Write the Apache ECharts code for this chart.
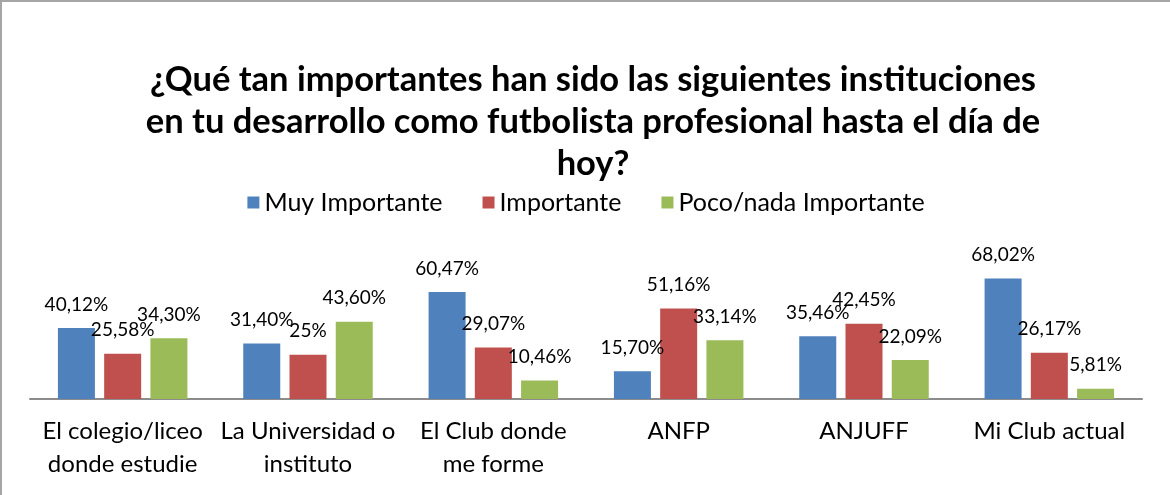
<!DOCTYPE html>
<html>
<head>
<meta charset="utf-8">
<script src="https://cdn.jsdelivr.net/npm/echarts@6/dist/echarts.min.js"></script>
<style>
  html, body { margin: 0; padding: 0; background: #fff; }
  #main { width: 1170px; height: 495px; box-sizing: border-box; border-top: 2px solid #a6a6a6; border-left: 2px solid #a6a6a6; }
</style>
</head>
<body>
<div id="main"></div>
<script>
// datos (porcentajes)
var categorias = ['El colegio/liceo\ndonde estudie', 'La Universidad o\ninstituto', 'El Club donde\nme forme', 'ANFP', 'ANJUFF', 'Mi Club actual'];
var muyImportante = [40.12, 31.40, 60.47, 15.70, 35.46, 68.02];
var importante = [25.58, 25, 29.07, 51.16, 42.45, 26.17];
var pocoNada = [34.30, 43.60, 10.46, 33.14, 22.09, 5.81];
var nombres = ['Muy Importante', 'Importante', 'Poco/nada Importante'];
var colores = ['#4F81BD', '#C0504D', '#9BBB59'];

var myChart = echarts.init(document.getElementById('main'));

function fmt(p) {
  // formato con coma decimal como en el original
  var v = p.value;
  var s = (Math.round(v) === v) ? String(v) : v.toFixed(2);
  return s.replace('.', ',') + '%';
}

function serie(i, datos) {
  return {
    name: nombres[i],
    type: 'bar',
    data: datos,
    barWidth: 37,
    barGap: '25%',
    itemStyle: { color: colores[i] },
    label: {
      show: true,
      position: 'top',
      distance: 14,
      color: '#000',
      fontSize: 19,
      fontFamily: 'Lato',
      formatter: fmt
    }
  };
}

var option = {
  animation: false,
  textStyle: { fontFamily: 'Lato' },
  title: {
    text: '¿Qué tan importantes han sido las siguientes instituciones\nen tu desarrollo como futbolista profesional hasta el día de\nhoy?',
    left: 586,
    top: 52,
    textAlign: 'center',
    textStyle: {
      fontFamily: 'Lato',
      fontWeight: 'bold',
      fontSize: 34.5,
      lineHeight: 42,
      color: '#000'
    }
  },
  legend: {
    top: 183,
    left: 'center',
    icon: 'rect',
    itemWidth: 12,
    itemHeight: 12,
    itemGap: 40,
    textStyle: { fontFamily: 'Lato', fontSize: 25, color: '#000' },
    data: nombres
  },
  grid: { left: 28, right: 28, top: 220, bottom: 96, containLabel: false },
  xAxis: {
    type: 'category',
    data: categorias,
    axisLine: { lineStyle: { color: '#8c8c8c', width: 2 } },
    axisTick: { show: false },
    axisLabel: {
      interval: 0,
      margin: 16,
      color: '#000',
      fontFamily: 'Lato',
      fontSize: 24,
      lineHeight: 33
    }
  },
  yAxis: {
    type: 'value',
    min: 0,
    max: 100,
    show: false
  },
  series: [
    serie(0, muyImportante),
    serie(1, importante),
    serie(2, pocoNada)
  ]
};

myChart.setOption(option);
</script>
</body>
</html>
